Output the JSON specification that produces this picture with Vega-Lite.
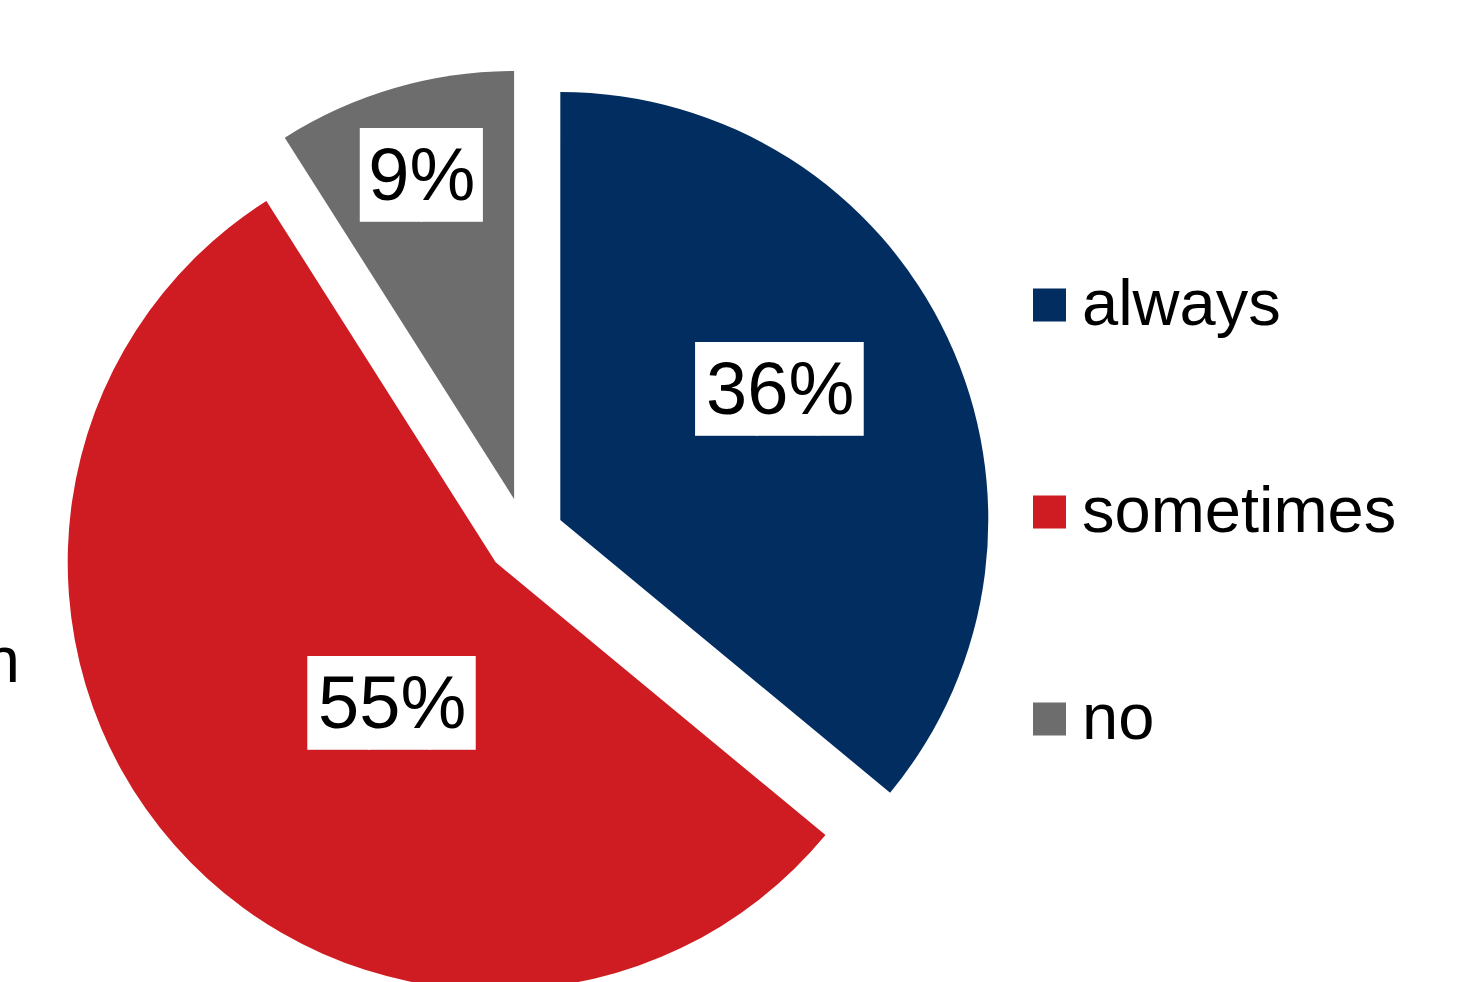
{
  "$schema": "https://vega.github.io/schema/vega-lite/v6.json",
  "width": 970,
  "height": 1073,
  "autosize": {"type": "none"},
  "padding": {"left": 40, "top": 0, "right": 448, "bottom": 0},
  "background": "white",
  "title": {"text": "n", "orient": "left", "frame": "group", "anchor": "middle", "angle": 0, "align": "right", "baseline": "alphabetic", "offset": -16, "dy": 145.5, "font": "Liberation Sans", "fontSize": 65, "fontWeight": "normal", "color": "black"},
  "data": {
    "values": [
      {"answer": "always", "share": 0.36, "rank": 1},
      {"answer": "sometimes", "share": 0.55, "rank": 2},
      {"answer": "no", "share": 0.09, "rank": 3}
    ]
  },
  "encoding": {
    "theta": {"field": "share", "type": "quantitative", "stack": true},
    "order": {"field": "rank", "type": "quantitative"}
  },
  "layer": [
    {
      "mark": {"type": "arc", "outerRadius": 428, "xOffset": 35.3, "yOffset": -16.6},
      "encoding": {
        "color": {"field": "answer", "type": "nominal", "scale": {"domain": ["always", "sometimes", "no"], "range": ["#012d61", "#ce1c22", "#6d6d6d"]}, "legend": {"title": null}},
        "opacity": {"condition": {"test": "datum.answer === 'always'", "value": 1}, "value": 0}
      }
    },
    {
      "mark": {"type": "arc", "outerRadius": 428, "xOffset": -29.3, "yOffset": 25.8},
      "encoding": {
        "color": {"field": "answer", "type": "nominal", "scale": {"domain": ["always", "sometimes", "no"], "range": ["#012d61", "#ce1c22", "#6d6d6d"]}, "legend": {"title": null}},
        "opacity": {"condition": {"test": "datum.answer === 'sometimes'", "value": 1}, "value": 0}
      }
    },
    {
      "mark": {"type": "arc", "outerRadius": 428, "xOffset": -10.9, "yOffset": -37.5},
      "encoding": {
        "color": {"field": "answer", "type": "nominal", "scale": {"domain": ["always", "sometimes", "no"], "range": ["#012d61", "#ce1c22", "#6d6d6d"]}, "legend": {"title": null}},
        "opacity": {"condition": {"test": "datum.answer === 'no'", "value": 1}, "value": 0}
      }
    },
    {
      "mark": {"type": "text", "font": "DejaVu Sans", "fontSize": 79, "align": "left", "baseline": "middle", "dx": -84, "radius": 294, "xOffset": -10.9, "yOffset": -19.7, "color": "white"},
      "encoding": {"text": {"condition": {"test": "datum.answer === 'always'", "value": "██▊"}, "value": ""}}
    },
    {
      "mark": {"type": "text", "font": "DejaVu Sans", "fontSize": 79, "align": "left", "baseline": "middle", "dx": -84, "radius": 209, "xOffset": 23.9, "yOffset": 30.9, "color": "white"},
      "encoding": {"text": {"condition": {"test": "datum.answer === 'sometimes'", "value": "██▊"}, "value": ""}}
    },
    {
      "mark": {"type": "text", "font": "DejaVu Sans", "fontSize": 79, "align": "left", "baseline": "middle", "dx": -61, "radius": 377, "xOffset": 1.9, "yOffset": 3.1, "color": "white"},
      "encoding": {"text": {"condition": {"test": "datum.answer === 'no'", "value": "██"}, "value": ""}}
    },
    {
      "mark": {"type": "text", "font": "Liberation Sans", "fontSize": 74, "align": "center", "baseline": "middle", "radius": 294, "xOffset": -10.9, "yOffset": -19.1, "color": "black"},
      "encoding": {"text": {"condition": {"test": "datum.answer === 'always'", "field": "share", "type": "quantitative", "format": ".0%"}, "value": ""}}
    },
    {
      "mark": {"type": "text", "font": "Liberation Sans", "fontSize": 74, "align": "center", "baseline": "middle", "radius": 209, "xOffset": 23.9, "yOffset": 31.5, "color": "black"},
      "encoding": {"text": {"condition": {"test": "datum.answer === 'sometimes'", "field": "share", "type": "quantitative", "format": ".0%"}, "value": ""}}
    },
    {
      "mark": {"type": "text", "font": "Liberation Sans", "fontSize": 74, "align": "center", "baseline": "middle", "radius": 377, "xOffset": 1.9, "yOffset": 3.7, "color": "black"},
      "encoding": {"text": {"condition": {"test": "datum.answer === 'no'", "field": "share", "type": "quantitative", "format": ".0%"}, "value": ""}}
    }
  ],
  "config": {
    "view": {"stroke": null},
    "legend": {
      "orient": "none",
      "legendX": 977,
      "legendY": 272.5,
      "padding": 0,
      "symbolType": "square",
      "symbolSize": 1089,
      "symbolStrokeWidth": 0,
      "labelFont": "Liberation Sans",
      "labelFontSize": 65,
      "labelColor": "black",
      "labelOffset": 0,
      "labelLimit": 0,
      "rowPadding": 141
    }
  }
}
